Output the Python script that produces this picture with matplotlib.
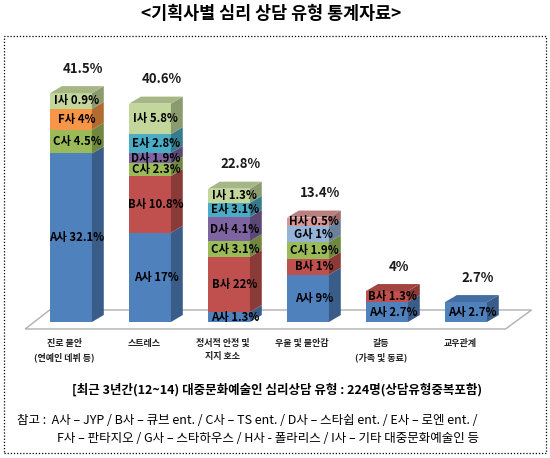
import matplotlib
matplotlib.use('Agg')
import matplotlib.pyplot as plt
from matplotlib.patches import Polygon, Rectangle
from matplotlib.colors import to_rgb

plt.rcParams['font.family'] = ['Noto Sans CJK KR', 'DejaVu Sans']

categories = ['진로 불안\n(연예인 데뷔 등)', '스트레스', '정서적 안정 및\n지지 호소',
              '우울 및 불안감', '갈등\n(가족 및 동료)', '교우관계']
total_labels = ['41.5%', '40.6%', '22.8%', '13.4%', '4%', '2.7%']

companies = ['A', 'B', 'C', 'D', 'E', 'F', 'G', 'H', 'I']

# segment heights as drawn in the chart (%), bottom to top
a_h = [32.1, 17.0, 1.9, 9.0, 3.8, 3.8]
b_h = [0, 10.8, 10.5, 3.0, 2.1, 0]
c_h = [4.5, 2.4, 3.0, 3.2, 0, 0]
d_h = [0, 2.0, 4.6, 0, 0, 0]
e_h = [0, 3.6, 2.7, 0, 0, 0]
f_h = [4.0, 0, 0, 0, 0, 0]
g_h = [0, 0, 0, 3.0, 0, 0]
h_h = [0, 0, 0, 1.7, 0, 0]
i_h = [3.0, 5.8, 2.7, 0, 0, 0]

# percentages printed on the segments
a_pct = [32.1, 17, 1.3, 9, 2.7, 2.7]
b_pct = [None, 10.8, 22, 1, 1.3, None]
c_pct = [4.5, 2.3, 3.1, 1.9, None, None]
d_pct = [None, 1.9, 4.1, None, None, None]
e_pct = [None, 2.8, 3.1, None, None, None]
f_pct = [4, None, None, None, None, None]
g_pct = [None, None, None, 1, None, None]
h_pct = [None, None, None, 0.5, None, None]
i_pct = [0.9, 5.8, 1.3, None, None, None]

colors = ['#4F81BD', '#C0504D', '#9BBB59', '#8064A2', '#4BACC6',
          '#F79646', '#95B3D7', '#D99694', '#C3D69B']

heights = [a_h, b_h, c_h, d_h, e_h, f_h, g_h, h_h, i_h]
pcts = [a_pct, b_pct, c_pct, d_pct, e_pct, f_pct, g_pct, h_pct, i_pct]

W, H = 550, 458
fig = plt.figure(figsize=(W / 100, H / 100), dpi=100)
ax = fig.add_axes([0, 0, 1, 1])
# pixel mapping: x_px = 71 + 79*x ; y_px = 322 - 5.25*y
ax.set_xlim(-71 / 79, (W - 71) / 79)
ax.set_ylim((322 - H) / 5.25, 322 / 5.25)
ax.axis('off')


def shade(c, f):
    r, g, b = to_rgb(c)
    return (r * f, g * f, b * f)


def fx(px):
    return px / W


def fy(py):
    return 1 - py / H


hw = 0.265     # half width of front face
dx = 0.15      # depth offset (x)
dy = 1.33      # depth offset (y)

# floor
floor = Polygon([(-0.58, -1.33), (5.5, -1.33), (5.83, 2.29), (-0.27, 2.29)],
                closed=True, facecolor='white', edgecolor='#B0B0B0', lw=1.0, zorder=1)
ax.add_patch(floor)

for i in range(len(categories)):
    bottom = 0
    top_color = None
    for k in range(len(companies)):
        h = heights[k][i]
        if h <= 0:
            continue
        c = colors[k]
        ax.add_patch(Rectangle((i - hw, bottom), 2 * hw, h, facecolor=c,
                               edgecolor='none', zorder=3))
        ax.add_patch(Polygon([(i + hw, bottom), (i + hw + dx, bottom + dy),
                              (i + hw + dx, bottom + h + dy), (i + hw, bottom + h)],
                             closed=True, facecolor=shade(c, 0.72), edgecolor='none', zorder=3))
        p = pcts[k][i]
        if p is not None:
            ax.text(i + dx / 2, bottom + h / 2, '%s사 %s%%' % (companies[k], format(p, 'g')),
                    ha='center', va='center', fontsize=8.2, fontweight='bold',
                    color='black', zorder=6)
        bottom += h
        top_color = c
    ax.add_patch(Polygon([(i - hw, bottom), (i + hw, bottom), (i + hw + dx, bottom + dy),
                          (i - hw + dx, bottom + dy)], closed=True,
                         facecolor=shade(top_color, 0.85), edgecolor='none', zorder=3))
    ax.text(i + 0.15, bottom + dy + 3.3, total_labels[i], ha='center', va='center',
            fontsize=9.5, fontweight='bold', color='#1a1a1a', zorder=6)
    ax.text(i - 0.08, -3.2, categories[i], ha='center', va='top', fontsize=6.5,
            fontweight='bold', color='#222222', linespacing=1.6)

# title and notes
fig.text(fx(271), fy(14), '<기획사별 심리 상담 유형 통계자료>', ha='center', va='center',
         fontsize=12.5, fontweight='bold')
fig.text(fx(277), fy(390), '[최근 3년간(12~14) 대중문화예술인 심리상담 유형 : 224명(상담유형중복포함)',
         ha='center', va='center', fontsize=9, fontweight='bold')
fig.text(fx(17), fy(420), '참고 :  A사 – JYP / B사 – 큐브 ent. / C사 – TS ent. / D사 – 스타쉽 ent. / E사 – 로엔 ent. /',
         ha='left', va='center', fontsize=9)
fig.text(fx(57), fy(438), 'F사 – 판타지오 / G사 – 스타하우스 / H사 - 폴라리스 / I사 – 기타 대중문화예술인 등',
         ha='left', va='center', fontsize=9)

# dotted frame
fig.add_artist(Rectangle((fx(4), fy(453)), fx(546) - fx(4), fy(36) - fy(453),
                         transform=fig.transFigure, fill=False, ec='black',
                         ls=(0, (1, 1.5)), lw=0.9))

fig.savefig('out.png', dpi=100)
